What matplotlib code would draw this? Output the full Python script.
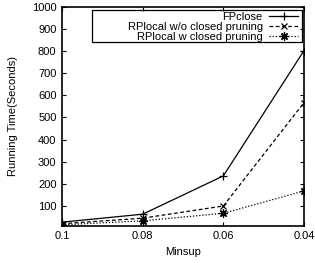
import matplotlib
matplotlib.use("Agg")
import matplotlib.pyplot as plt
from matplotlib.patches import Rectangle

# valores
minsup = [0.1, 0.08, 0.06, 0.04]
fpclose = [27, 63, 236, 802]
rp_sem = [20, 45, 100, 567]
rp_com = [15, 33, 67, 168]

plt.rcParams["font.family"] = ["Liberation Sans", "DejaVu Sans"]
plt.rcParams["font.size"] = 8

fig = plt.figure(figsize=(3.15, 2.63), dpi=100)
ax = fig.add_axes([0.197, 0.141, 0.768, 0.833])

ax.plot(minsup, fpclose, color="black", lw=0.9, ls="-", marker="+", ms=6, mew=0.9, label="FPclose")
ax.plot(minsup, rp_sem, color="black", lw=0.9, ls=(0, (3, 2)), marker="x", ms=5, mew=0.9,
        label="RPlocal w/o closed pruning")
ax.plot(minsup, rp_com, color="black", lw=0.9, ls=(0, (1, 1.5)), marker=(8, 2, 0), ms=6, mew=0.9,
        label="RPlocal w closed pruning")

ax.set_xlim(0.1, 0.04)
ax.set_ylim(10, 1000)
ax.set_xticks(minsup)
ax.set_xticklabels(["0.1", "0.08", "0.06", "0.04"])
ax.set_yticks(range(100, 1001, 100))
ax.tick_params(direction="in", top=True, right=True, length=3, width=0.8, pad=4)
for s in ax.spines.values():
    s.set_linewidth(1.2)

ax.set_xlabel("Minsup", labelpad=4)
ax.set_ylabel("Running Time(Seconds)", labelpad=10)

# legenda estilo gnuplot: texto alinhado a direita, caixa larga
leg = ax.legend(loc="upper right", bbox_to_anchor=(0.99, 0.99), markerfirst=False,
                frameon=False, handlelength=2.6, handletextpad=0.6,
                labelspacing=0.0, borderpad=0.3, borderaxespad=0)
for col in leg._legend_handle_box.get_children():
    col.align = "right"
ax.add_patch(Rectangle((0.124, 0.838), 0.868, 0.148, transform=ax.transAxes,
                       fill=False, edgecolor="black", lw=0.9, zorder=5))

fig.savefig("out.png", dpi=100)
